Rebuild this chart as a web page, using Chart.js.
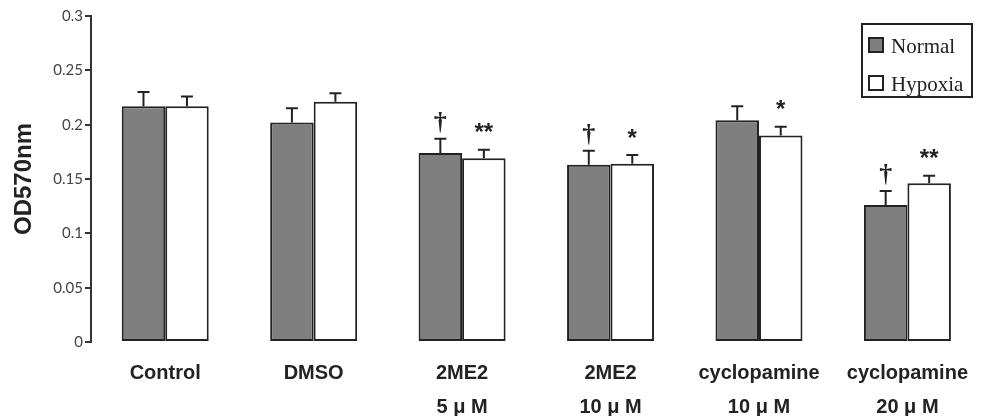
<!DOCTYPE html>
<html>
<head>
<meta charset="utf-8">
<script src="https://cdn.jsdelivr.net/npm/chart.js@4.4.0/dist/chart.umd.min.js"></script>
<style>
  html, body { margin: 0; padding: 0; background: #fff; }
  #wrap { width: 982px; height: 416px; position: relative; }
</style>
</head>
<body>
<div id="wrap"><canvas id="chart"></canvas></div>
<script>
// Datos (OD570nm, media ± error)
const categories   = [['Control'], ['DMSO'], ['2ME2', '5 μ M'], ['2ME2', '10 μ M'],
                      ['cyclopamine', '10 μ M'], ['cyclopamine', '20 μ M']];
const normal       = [0.217, 0.202, 0.174, 0.163, 0.204, 0.126];
const normalErr    = [0.013, 0.013, 0.013, 0.013, 0.013, 0.013];
const hypoxia      = [0.217, 0.221, 0.169, 0.164, 0.190, 0.146];
const hypoxiaErr   = [0.009, 0.008, 0.008, 0.008, 0.008, 0.007];
const normalMarks  = ['', '', '†', '†', '', '†'];
const hypoxiaMarks = ['', '', '**', '*', '*', '**'];
const yTicks       = [0, 0.05, 0.1, 0.15, 0.2, 0.25, 0.3];

const INK = '#222';
const errs  = [normalErr, hypoxiaErr];
const marks = [normalMarks, hypoxiaMarks];

// barras de error + marcas de significancia
const errorBars = {
  id: 'errorBars',
  afterDatasetsDraw(chart) {
    const { ctx } = chart;
    const y = chart.scales.y;
    chart.data.datasets.forEach((ds, i) => {
      chart.getDatasetMeta(i).data.forEach((bar, j) => {
        const top = y.getPixelForValue(ds.data[j] + errs[i][j]);
        ctx.save();
        ctx.strokeStyle = INK;
        ctx.lineWidth = 2;
        ctx.beginPath();
        ctx.moveTo(bar.x, bar.y);
        ctx.lineTo(bar.x, top);
        ctx.moveTo(bar.x - 6, top);
        ctx.lineTo(bar.x + 6, top);
        ctx.stroke();
        const m = marks[i][j];
        if (m) {
          ctx.fillStyle = INK;
          ctx.textAlign = 'center';
          ctx.textBaseline = 'alphabetic';
          if (m === '†') {
            // la cruz termina ~6px sobre la tapa del error
            ctx.font = 'bold 26px "Liberation Serif"';
            const d = ctx.measureText(m).actualBoundingBoxDescent;
            ctx.fillText(m, bar.x, top - 6 - d);
          } else {
            // asteriscos centrados ~22px sobre la tapa
            ctx.font = 'bold 24px "Liberation Sans"';
            const mt = ctx.measureText(m);
            const mid = (mt.actualBoundingBoxAscent - mt.actualBoundingBoxDescent) / 2;
            ctx.fillText(m, bar.x, top - 22 + mid);
          }
        }
        ctx.restore();
      });
    });
  }
};

// leyenda en caja arriba a la derecha
const boxLegend = {
  id: 'boxLegend',
  afterDraw(chart) {
    const { ctx } = chart;
    ctx.save();
    ctx.strokeStyle = INK;
    ctx.lineWidth = 2;
    ctx.strokeRect(862, 24, 110, 73);
    ctx.font = '21px "Liberation Serif"';
    ctx.textBaseline = 'alphabetic';
    ctx.textAlign = 'left';
    chart.data.datasets.forEach((ds, i) => {
      const yy = 38 + i * 38;
      ctx.fillStyle = ds.backgroundColor;
      ctx.fillRect(869, yy, 14, 14);
      ctx.strokeRect(869, yy, 14, 14);
      ctx.fillStyle = INK;
      ctx.fillText(ds.label, 891, yy + 15);
    });
    ctx.restore();
  }
};

new Chart(document.getElementById('chart'), {
  type: 'bar',
  data: {
    labels: categories,
    datasets: [
      { label: 'Normal', data: normal, backgroundColor: '#7f7f7f' },
      { label: 'Hypoxia', data: hypoxia, backgroundColor: '#ffffff' },
    ],
  },
  options: {
    responsive: true,
    maintainAspectRatio: false,
    animation: false,
    layout: { padding: { top: 16, right: 0, bottom: 0, left: 0 } },
    datasets: {
      bar: {
        borderColor: INK,
        borderWidth: 2,
        borderSkipped: false,
        categoryPercentage: 0.586,
        barPercentage: 1,
      },
    },
    scales: {
      x: {
        grid: { display: false, drawTicks: false },
        border: { display: false },
        ticks: {
          color: INK,
          padding: 14,
          maxRotation: 0,
          autoSkip: false,
          font: { family: '"Liberation Sans", Arial', size: 20, weight: 'bold', lineHeight: 1.72 },
        },
        afterFit: s => { s.height = 74; },
      },
      y: {
        min: 0,
        max: 0.3,
        afterBuildTicks: s => { s.ticks = yTicks.map(v => ({ value: v })); },
        grid: { drawOnChartArea: false, drawTicks: true, tickLength: 6, color: '#333', lineWidth: 2 },
        border: { display: true, color: '#333', width: 2 },
        ticks: {
          color: '#444',
          padding: 2,
          font: { family: 'Lato', size: 15 },
          callback: v => String(+v.toFixed(2)),
        },
        title: {
          display: true,
          text: 'OD570nm',
          color: INK,
          padding: { top: 10, bottom: 0 },
          font: { family: '"Liberation Sans", Arial', size: 24, weight: 'bold' },
        },
        afterFit: s => { s.width = 91; },
      },
    },
    plugins: {
      legend: { display: false },
      tooltip: { enabled: false },
    },
  },
  plugins: [errorBars, boxLegend],
});
</script>
</body>
</html>
